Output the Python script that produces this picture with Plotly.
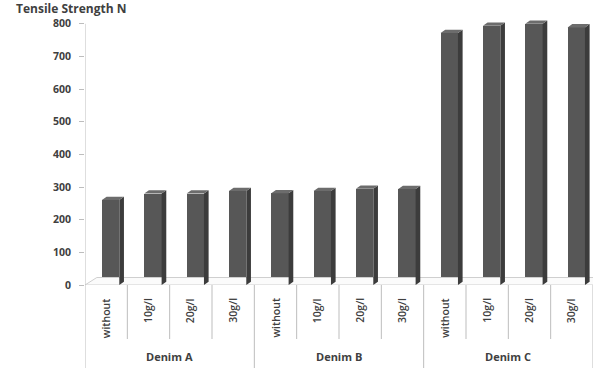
import plotly.graph_objects as go

# Tensile strength (N) of denim fabrics by treatment concentration
groups = ["Denim A", "Denim B", "Denim C"]
levels = ["without", "10g/l", "20g/l", "30g/l"]
denim_a = [260, 280, 280, 288]
denim_b = [281, 288, 295, 294]
denim_c = [772, 794, 800, 789]
y_ticks = [0, 100, 200, 300, 400, 500, 600, 700, 800]

values = denim_a + denim_b + denim_c
n = len(values)
pos = list(range(n))

W, H = 595, 368
M_L, M_R, M_T, M_B = 85, 2, 14, 83
PLOT_H = H - M_T - M_B
Y_MAX = 830

FONT = "Open Sans"
TXT = "#404040"
GRID = "#bdbdbd"

# pseudo-3D geometry (in data units)
BAR_W = 0.41
BAR_SHIFT = 0.105
DX, DY = 0.11, 10          # bar depth
FDX, FDY = 0.28, 23        # floor depth


def py(pix):
    """pixel row below the plot bottom -> paper y"""
    return -(pix - (H - M_B)) / PLOT_H


fig = go.Figure()

# floor
fig.add_trace(go.Scatter(
    x=[-0.5, n - 0.5, n - 0.5 + FDX, -0.5 + FDX, -0.5],
    y=[0, 0, FDY, FDY, 0],
    mode="lines", fill="toself", fillcolor="#fbfbfb",
    line=dict(color="#cfcfcf", width=1), hoverinfo="skip", showlegend=False))

# front faces
fig.add_trace(go.Bar(
    x=[p + BAR_SHIFT for p in pos], y=values, width=BAR_W,
    marker=dict(color="#575757", line=dict(width=0)),
    showlegend=False, cliponaxis=False))

# side and top faces
sx, sy, tx, ty = [], [], [], []
for p, v in zip(pos, values):
    x0 = p + BAR_SHIFT - BAR_W / 2
    x1 = p + BAR_SHIFT + BAR_W / 2
    sx += [x1, x1 + DX, x1 + DX, x1, x1, None]
    sy += [0, DY, v + DY, v, 0, None]
    tx += [x0, x0 + DX, x1 + DX, x1, x0, None]
    ty += [v, v + DY, v + DY, v, v, None]
fig.add_trace(go.Scatter(x=sx, y=sy, mode="lines", fill="toself",
                         fillcolor="#3c3c3c", line=dict(width=0),
                         hoverinfo="skip", showlegend=False))
fig.add_trace(go.Scatter(x=tx, y=ty, mode="lines", fill="toself",
                         fillcolor="#6c6c6c", line=dict(width=0),
                         hoverinfo="skip", showlegend=False))

shapes = []
annotations = []

# value axis line
shapes.append(dict(type="line", xref="x", yref="y", x0=-0.5, x1=-0.5,
                   y0=0, y1=y_ticks[-1], line=dict(color=GRID, width=1)))

# category table: separators and labels
for k in range(n + 1):
    is_group = k % len(levels) == 0
    shapes.append(dict(type="line", xref="x", yref="paper",
                       x0=k - 0.5, x1=k - 0.5, y0=0,
                       y1=py(368) if is_group else py(339),
                       line=dict(color=GRID, width=1)))

for p in pos:
    annotations.append(dict(
        x=p, y=py(296), xref="x", yref="paper", text=levels[p % len(levels)],
        textangle=-90, showarrow=False, xanchor="center", yanchor="top",
        font=dict(family=FONT, size=10.5, color=TXT, weight=600)))

for g, name in enumerate(groups):
    c = g * len(levels) + (len(levels) - 1) / 2
    annotations.append(dict(
        x=c, y=py(356), xref="x", yref="paper", text="<b>%s</b>" % name,
        showarrow=False, xanchor="center", yanchor="middle",
        font=dict(family=FONT, size=11, color=TXT)))

# axis title
annotations.append(dict(
    x=-(M_L - 14) / (W - M_L - M_R), y=1 + (M_T - 8.5) / PLOT_H,
    xref="paper", yref="paper", text="<b>Tensile Strength N</b>",
    showarrow=False, xanchor="left", yanchor="middle",
    font=dict(family=FONT, size=12, color=TXT)))

fig.update_layout(
    width=W, height=H,
    margin=dict(l=M_L, r=M_R, t=M_T, b=M_B),
    paper_bgcolor="white", plot_bgcolor="white",
    bargap=0, showlegend=False,
    shapes=shapes, annotations=annotations,
    xaxis=dict(range=[-0.5, n - 0.5], showticklabels=False, showgrid=False,
               zeroline=False, showline=False, ticks=""),
    yaxis=dict(range=[0, Y_MAX], tickvals=y_ticks, showgrid=False,
               zeroline=False, showline=False, ticks="outside", ticklen=5,
               tickcolor=GRID, ticklabelstandoff=6,
               tickfont=dict(family=FONT, size=10.5, color=TXT, weight="bold")),
)

fig.write_html("out.html")
